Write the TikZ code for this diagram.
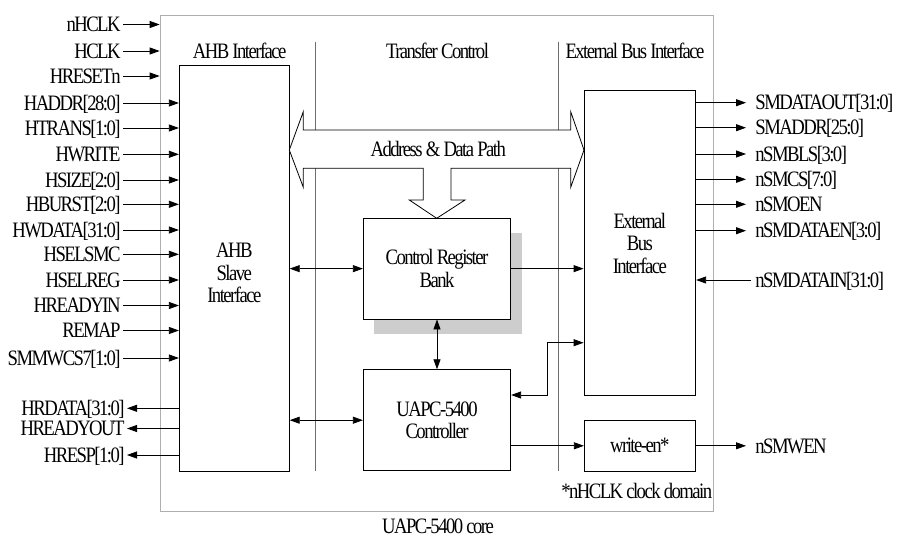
\documentclass[tikz,border=0pt]{standalone}
\usepackage{fontspec}
\setmainfont{Liberation Serif}[FakeStretch=0.85, LetterSpace=-7]
\usetikzlibrary{arrows.meta}
\definecolor{coregray}{RGB}{175,175,175}
\definecolor{divgray}{RGB}{110,110,110}
\definecolor{shadowgray}{RGB}{205,205,205}
\begin{document}
\begin{tikzpicture}[x=1pt,y=-1pt, font=\fontsize{22}{22.5}\selectfont, line width=0.8pt,
  box/.style={draw, fill=white, inner sep=0pt},
  lbl/.style={inner xsep=2pt, inner ysep=0pt, text height=14.8pt, text depth=0.4pt},
  rlbl/.style={lbl, inner xsep=4pt},
  arr/.style={-{Triangle[length=10pt,width=7pt]}},
  biarr/.style={{Triangle[length=10pt,width=7pt]}-{Triangle[length=10pt,width=7pt]}},
  divider/.style={draw=divgray, line width=0.6pt}
]
\useasboundingbox (0,0) rectangle (904,538);

% core outline
\node[draw=coregray, line width=0.7pt, minimum width=553pt, minimum height=496pt, inner sep=0pt] (core) at (436.5,263) {};

% dividers
\coordinate (d1t) at (315,41.7);
\coordinate (d1b) at (315,470.7);
\coordinate (d2t) at (558.3,41.7);
\coordinate (d2b) at (558.3,470.7);
\draw[divider] (d1t) -- (d1b);
\draw[divider] (d2t) -- (d2b);

% headers
\node[lbl] (h1) at (239.7,51.7) {AHB Interface};
\node[lbl] (h2) at (437.5,51.2) {Transfer Control};
\node[lbl] (h3) at (635,51.7) {External Bus Interface};

% main blocks
\node[box, minimum width=110pt, minimum height=405.3pt] (ahb) at (234.3,268.35) {};
\node[align=center] (ahbtxt) at (234.3,273) {AHB\\Slave\\Interface};

\node[box, minimum width=111.7pt, minimum height=304.3pt] (ebi) at (639.85,242.85) {};
\node[align=center] (ebitxt) at (639.85,243) {External\\Bus\\Interface};

\node[box, minimum width=111pt, minimum height=51pt] (wen) at (639.8,445.8) {write-en*};

% address & data path arrow
\draw[fill=white] (289.3,150) -- (303.3,111.7) -- (303.3,130) -- (570.7,130) -- (570.7,111.7)
  -- (584,150) -- (570.7,187.3) -- (570.7,168.3) -- (451,168.3) -- (451,200) -- (465,200)
  -- (436.7,218.3) -- (409.3,200) -- (423.3,200) -- (423.3,168.3) -- (303.3,168.3)
  -- (303.3,187.3) -- cycle;
\node[lbl] (adp) at (438.3,149.5) {Address \& Data Path};

% control register bank with shadow
\fill[shadowgray] (374.3,232.7) rectangle (522.3,334.3);
\node[box, minimum width=147.4pt, minimum height=100.7pt, align=center] (crb) at (437,268.65) {Control Register\\Bank};

% controller
\node[box, minimum width=147.4pt, minimum height=101pt, align=center] (ctrl) at (437,420.2) {UAPC-5400\\Controller};

% internal connectors
\draw[biarr] (ahb.east |- crb.west) -- (crb.west);
\draw[biarr] (ahb.east |- ctrl.west) -- (ctrl.west);
\draw[arr] (crb.east) -- (crb.east -| ebi.west);
\draw[biarr] (crb.south) -- (ctrl.north);
\coordinate (b1) at (547.3,395);
\coordinate (b2) at (547.3,342.7);
\draw[biarr] (ctrl.east |- b1) -- (b1) -- (b2) -- (ebi.west |- b2);
\draw[arr] (ctrl.east |- wen.west) -- (wen.west);

% left clock/reset inputs (to core boundary)
\foreach \n/\t/\y in {1/nHCLK/24.5, 2/HCLK/51, 3/HRESETn/76} {
  \node[lbl, anchor=east] (C\n) at (123,\y) {\t};
  \draw[arr] (C\n.east) -- (core.west |- C\n.east);
}

% left inputs
\foreach \n/\t/\y in {1/{HADDR[28:0]}/103, 2/{HTRANS[1:0]}/128, 3/HWRITE/154.3, 4/{HSIZE[2:0]}/180,
  5/{HBURST[2:0]}/204.3, 6/{HWDATA[31:0]}/230, 7/HSELSMC/254.3, 8/HSELREG/280,
  9/HREADYIN/305.5, 10/REMAP/330.5, 11/{SMMWCS7[1:0]}/358} {
  \node[lbl, anchor=east] (L\n) at (123,\y) {\t};
  \draw[arr] (L\n.east) -- (ahb.west |- L\n.east);
}

% left outputs
\foreach \n/\t/\y in {1/{HRDATA[31:0]}/408.3, 2/HREADYOUT/428.5, 3/{HRESP[1:0]}/455} {
  \node[lbl, anchor=east] (O\n) at (127,\y) {\t};
  \draw[arr] (ahb.west |- O\n.east) -- (O\n.east);
}

% right outputs
\foreach \n/\t/\y in {1/{SMDATAOUT[31:0]}/102.7, 2/{SMADDR[25:0]}/127.7, 3/{nSMBLS[3:0]}/154,
  4/{nSMCS[7:0]}/179.3, 5/nSMOEN/204.3, 6/{nSMDATAEN[3:0]}/230.7} {
  \node[rlbl, anchor=west] (R\n) at (751,\y) {\t};
  \draw[arr] (ebi.east |- R\n.west) -- ([xshift=-5pt]R\n.west);
}
\node[rlbl, anchor=west] (Rin) at (751,280) {nSMDATAIN[31:0]};
\draw[arr] (Rin.west) -- (ebi.east |- Rin.west);
\node[rlbl, anchor=west] (Rwen) at (751,445.8) {nSMWEN};
\draw[arr] (wen.east) -- ([xshift=-5pt]Rwen.west);

% notes
\node[lbl] (dom) at (636.7,491.7) {*nHCLK clock domain};
\node[lbl] (title) at (438,526.5) {UAPC-5400 core};
\end{tikzpicture}
\end{document}
